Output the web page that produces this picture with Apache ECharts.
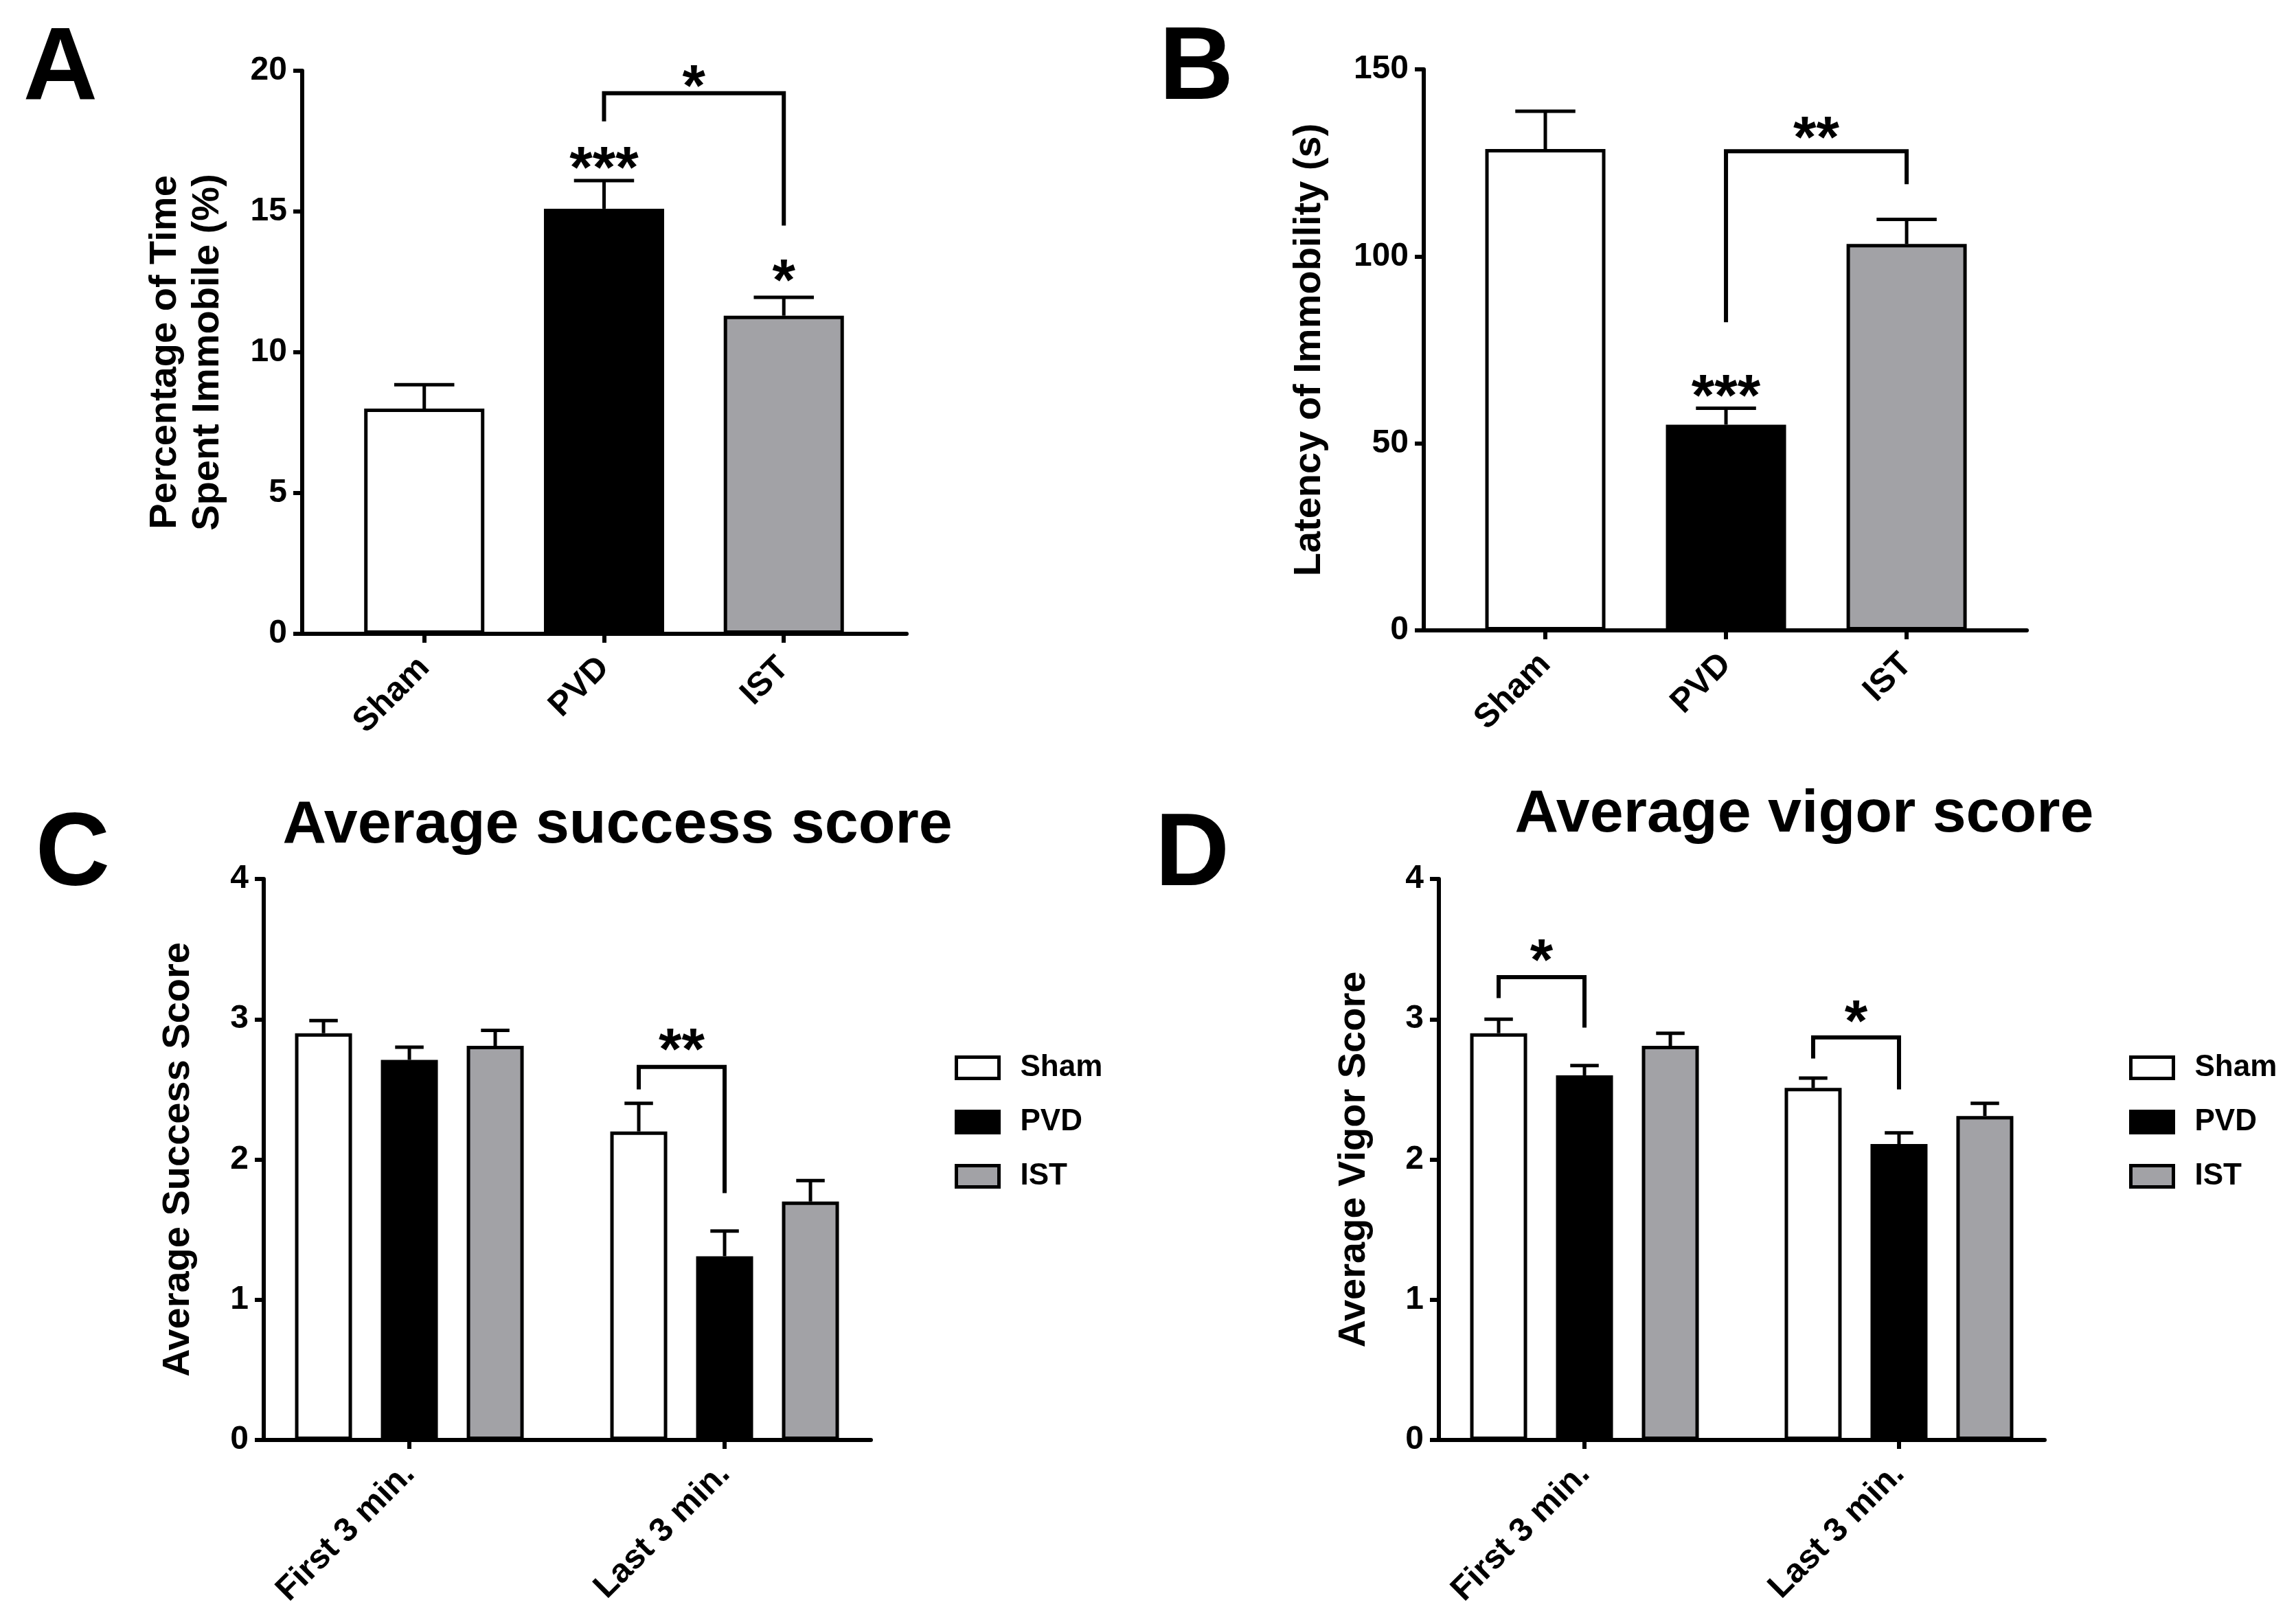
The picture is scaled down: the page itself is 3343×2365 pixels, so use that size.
<!DOCTYPE html>
<html>
<head>
<meta charset="utf-8">
<title>Behaviour scores</title>
<script src="https://cdn.jsdelivr.net/npm/echarts@6/dist/echarts.min.js"></script>
<style>
  html, body { margin: 0; padding: 0; background: #fff; }
  #chart { width: 3343px; height: 2365px; }
</style>
</head>
<body>
<div id="chart"></div>
<script>
// ---- data ----
var groups = ['Sham', 'PVD', 'IST'];
var groupColors = ['#ffffff', '#000000', '#a2a2a6'];

// A: percentage of time spent immobile (mean, top of SEM bar)
var immobileMean = [8.0, 15.1, 11.3];
var immobileErr = [8.85, 16.1, 11.95];
var immobileTicks = [0, 5, 10, 15, 20];

// B: latency of immobility (s)
var latencyMean = [128.7, 55.0, 103.3];
var latencyErr = [138.8, 59.4, 109.9];
var latencyTicks = [0, 50, 100, 150];

// C / D: first vs last 3 minutes
var periods = ['First 3 min.', 'Last 3 min.'];
var scoreTicks = [0, 1, 2, 3, 4];

var successSham = [2.90, 2.20];
var successPVD = [2.71, 1.31];
var successIST = [2.81, 1.70];
var successShamErr = [2.99, 2.40];
var successPVDErr = [2.80, 1.49];
var successISTErr = [2.92, 1.85];

var vigorSham = [2.90, 2.51];
var vigorPVD = [2.60, 2.11];
var vigorIST = [2.81, 2.31];
var vigorShamErr = [3.00, 2.58];
var vigorPVDErr = [2.67, 2.19];
var vigorISTErr = [2.90, 2.40];

// significance brackets: [x left, slot left, x right, slot right, top, left end, right end]
var bracketsA = [[1, 0, 2, 0, 19.2, 18.2, 14.5]];
var bracketsB = [[1, 0, 2, 0, 128.1, 82.4, 119.3]];
var bracketsC = [[1, -1, 1, 0, 2.66, 2.50, 1.76]];
var bracketsD = [[0, -1, 0, 0, 3.30, 3.15, 2.94], [1, -1, 1, 0, 2.87, 2.72, 2.50]];

// stars: [x, slot, y, text]
var starsA = [[1.5, 0, 19.7, '*'], [1, 0, 16.8, '***'], [2, 0, 12.8, '*']];
var starsB = [[1.5, 0, 133.5, '**'], [1, 0, 64.5, '***']];
var starsC = [[1, -0.5, 2.83, '**']];
var starsD = [[0, -0.5, 3.47, '*'], [1, -0.5, 3.03, '*']];

// ---- styling ----
var FONT = "'Liberation Sans', Arial, Helvetica, sans-serif";
var AXIS_W = 6;
var BAR_W_BIG = 175;
var BAR_W_SMALL = 83;
var BAR_GAP_SMALL = 42;
var SLOT = BAR_W_SMALL + BAR_GAP_SMALL;
var STAR_SIZE = 86;

function yAxisOf(grid, ticks, name, gap, lineHeight) {
  return {
    type: 'value', gridIndex: grid,
    min: ticks[0], max: ticks[ticks.length - 1], interval: ticks[1] - ticks[0],
    splitLine: { show: false },
    axisLine: { show: true, onZero: false, lineStyle: { color: '#000', width: AXIS_W } },
    axisTick: { show: true, length: 13, lineStyle: { color: '#000', width: AXIS_W } },
    axisLabel: { color: '#000', fontFamily: FONT, fontWeight: 'bold', fontSize: 48, margin: 22 },
    name: name, nameLocation: 'middle', nameGap: gap,
    nameTextStyle: { color: '#000', fontFamily: FONT, fontWeight: 'bold', fontSize: 56, lineHeight: lineHeight || 68 }
  };
}

function xAxisOf(grid, min, max, labels) {
  var pos = labels.map(function (d, i) { return i; });
  return {
    type: 'value', gridIndex: grid, min: min, max: max,
    splitLine: { show: false },
    axisLine: { show: true, onZero: false, lineStyle: { color: '#000', width: AXIS_W } },
    axisTick: { show: true, customValues: pos, length: 13, lineStyle: { color: '#000', width: AXIS_W } },
    axisLabel: {
      customValues: pos, rotate: 45, margin: 42, hideOverlap: false,
      color: '#000', fontFamily: FONT, fontWeight: 'bold', fontSize: 49,
      formatter: function (v) { return labels[Math.round(v)]; }
    }
  };
}

function renderError(barW, step) {
  return function (params, api) {
    var x = api.value(0);
    var p0 = api.coord([x, api.value(1)]);
    var p1 = api.coord([x, api.value(2)]);
    var cx = p0[0] + api.value(3) * step;
    var half = barW / 4;
    var st = { stroke: '#000', lineWidth: 5 };
    return {
      type: 'group', children: [
        { type: 'line', shape: { x1: cx, y1: p0[1], x2: cx, y2: p1[1] }, style: st },
        { type: 'line', shape: { x1: cx - half, y1: p1[1], x2: cx + half, y2: p1[1] }, style: st }
      ]
    };
  };
}

function renderBracket(step) {
  return function (params, api) {
    var top = api.coord([api.value(0), api.value(4)]);
    var xl = top[0] + api.value(1) * step;
    var xr = api.coord([api.value(2), api.value(4)])[0] + api.value(3) * step;
    var yl = api.coord([api.value(0), api.value(5)])[1];
    var yr = api.coord([api.value(2), api.value(6)])[1];
    return {
      type: 'polyline',
      shape: { points: [[xl, yl], [xl, top[1]], [xr, top[1]], [xr, yr]] },
      style: { stroke: '#000', lineWidth: 6, fill: null, lineJoin: 'miter' }
    };
  };
}

function renderStars(list, step) {
  return function (params, api) {
    var p = api.coord([api.value(0), api.value(2)]);
    var txt = list[params.dataIndex][3];
    return {
      type: 'text',
      x: p[0] + api.value(1) * step,
      y: p[1] + STAR_SIZE * 0.17,
      style: {
        text: txt, fill: '#000', font: 'bold ' + STAR_SIZE + 'px ' + FONT,
        align: 'center', verticalAlign: 'middle', textAlign: 'center', textVerticalAlign: 'middle'
      }
    };
  };
}

function simpleBars(axis, means) {
  return {
    type: 'bar', name: 'bars' + axis, xAxisIndex: axis, yAxisIndex: axis, barWidth: BAR_W_BIG,
    data: means.map(function (v, i) {
      return { value: [i, v], itemStyle: { color: groupColors[i], borderColor: '#000', borderWidth: 5 } };
    }),
    z: 2
  };
}

function groupBars(axis, name, color, means) {
  return {
    type: 'bar', name: name, xAxisIndex: axis, yAxisIndex: axis,
    barWidth: BAR_W_SMALL, barGap: (BAR_GAP_SMALL / BAR_W_SMALL * 100).toFixed(1) + '%',
    itemStyle: { color: color, borderColor: '#000', borderWidth: 5 },
    data: means.map(function (v, i) { return [i, v]; }),
    z: 2
  };
}

function errSeries(axis, data, barW, step) {
  return { type: 'custom', xAxisIndex: axis, yAxisIndex: axis, renderItem: renderError(barW, step), data: data, z: 3, silent: true };
}
function bracketSeries(axis, list, step) {
  return { type: 'custom', xAxisIndex: axis, yAxisIndex: axis, renderItem: renderBracket(step), data: list, z: 4, silent: true };
}
function starSeries(axis, list, step) {
  return {
    type: 'custom', xAxisIndex: axis, yAxisIndex: axis, renderItem: renderStars(list, step),
    data: list.map(function (s) { return [s[0], s[1], s[2]]; }), z: 4, silent: true
  };
}

function simpleErr(means, errs) {
  return means.map(function (m, i) { return [i, m, errs[i], 0]; });
}
function groupErr(lists) {
  var out = [];
  lists.forEach(function (pair, k) {
    pair[0].forEach(function (m, g) { out.push([g, m, pair[1][g], k - 1]); });
  });
  return out;
}

function panelText(x, y, text, size) {
  return {
    type: 'text', x: x, y: y,
    style: {
      text: text, fill: '#000', font: 'bold ' + size + 'px ' + FONT,
      align: 'center', verticalAlign: 'middle', textAlign: 'center', textVerticalAlign: 'middle'
    }
  };
}

function legendAt(left) {
  return {
    left: left, top: 1528, orient: 'vertical', selectedMode: false,
    data: groups, icon: 'rect', itemWidth: 62, itemHeight: 31, itemGap: 35,
    itemStyle: { borderColor: '#000', borderWidth: 5 },
    textStyle: { color: '#000', fontFamily: FONT, fontWeight: 'bold', fontSize: 44, lineHeight: 44, padding: [0, 0, 0, 26] }
  };
}

var chart = echarts.init(document.getElementById('chart'), null, { renderer: 'canvas' });

var option = {
  backgroundColor: '#fff',
  animation: false,
  grid: [
    { left: 440, top: 103, width: 880, height: 820 },
    { left: 2073, top: 101, width: 878, height: 817 },
    { left: 384, top: 1280, width: 884, height: 817 },
    { left: 2095, top: 1280, width: 882, height: 817 }
  ],
  xAxis: [
    xAxisOf(0, -0.679, 2.683, groups),
    xAxisOf(1, -0.673, 2.665, groups),
    xAxisOf(2, -0.462, 1.464, periods),
    xAxisOf(3, -0.463, 1.463, periods)
  ],
  yAxis: [
    yAxisOf(0, immobileTicks, 'Percentage of Time\nSpent Immobile (%)', 106, 62),
    yAxisOf(1, latencyTicks, 'Latency of Immobility (s)', 132),
    yAxisOf(2, scoreTicks, 'Average Success Score', 90),
    yAxisOf(3, scoreTicks, 'Average Vigor Score', 89)
  ],
  legend: [legendAt(1385), legendAt(3095)],
  graphic: [
    panelText(88, 103, 'A', 150),
    panelText(1742, 103, 'B', 150),
    panelText(106, 1248, 'C', 150),
    panelText(1736, 1248, 'D', 150),
    panelText(899, 1203, 'Average success score', 88),
    panelText(2627, 1187, 'Average vigor score', 88)
  ],
  series: [
    simpleBars(0, immobileMean),
    errSeries(0, simpleErr(immobileMean, immobileErr), BAR_W_BIG, 0),
    bracketSeries(0, bracketsA, 0),
    starSeries(0, starsA, 0),

    simpleBars(1, latencyMean),
    errSeries(1, simpleErr(latencyMean, latencyErr), BAR_W_BIG, 0),
    bracketSeries(1, bracketsB, 0),
    starSeries(1, starsB, 0),

    groupBars(2, 'Sham', groupColors[0], successSham),
    groupBars(2, 'PVD', groupColors[1], successPVD),
    groupBars(2, 'IST', groupColors[2], successIST),
    errSeries(2, groupErr([[successSham, successShamErr], [successPVD, successPVDErr], [successIST, successISTErr]]), BAR_W_SMALL, SLOT),
    bracketSeries(2, bracketsC, SLOT),
    starSeries(2, starsC, SLOT),

    groupBars(3, 'Sham', groupColors[0], vigorSham),
    groupBars(3, 'PVD', groupColors[1], vigorPVD),
    groupBars(3, 'IST', groupColors[2], vigorIST),
    errSeries(3, groupErr([[vigorSham, vigorShamErr], [vigorPVD, vigorPVDErr], [vigorIST, vigorISTErr]]), BAR_W_SMALL, SLOT),
    bracketSeries(3, bracketsD, SLOT),
    starSeries(3, starsD, SLOT)
  ]
};

chart.setOption(option);
</script>
</body>
</html>
